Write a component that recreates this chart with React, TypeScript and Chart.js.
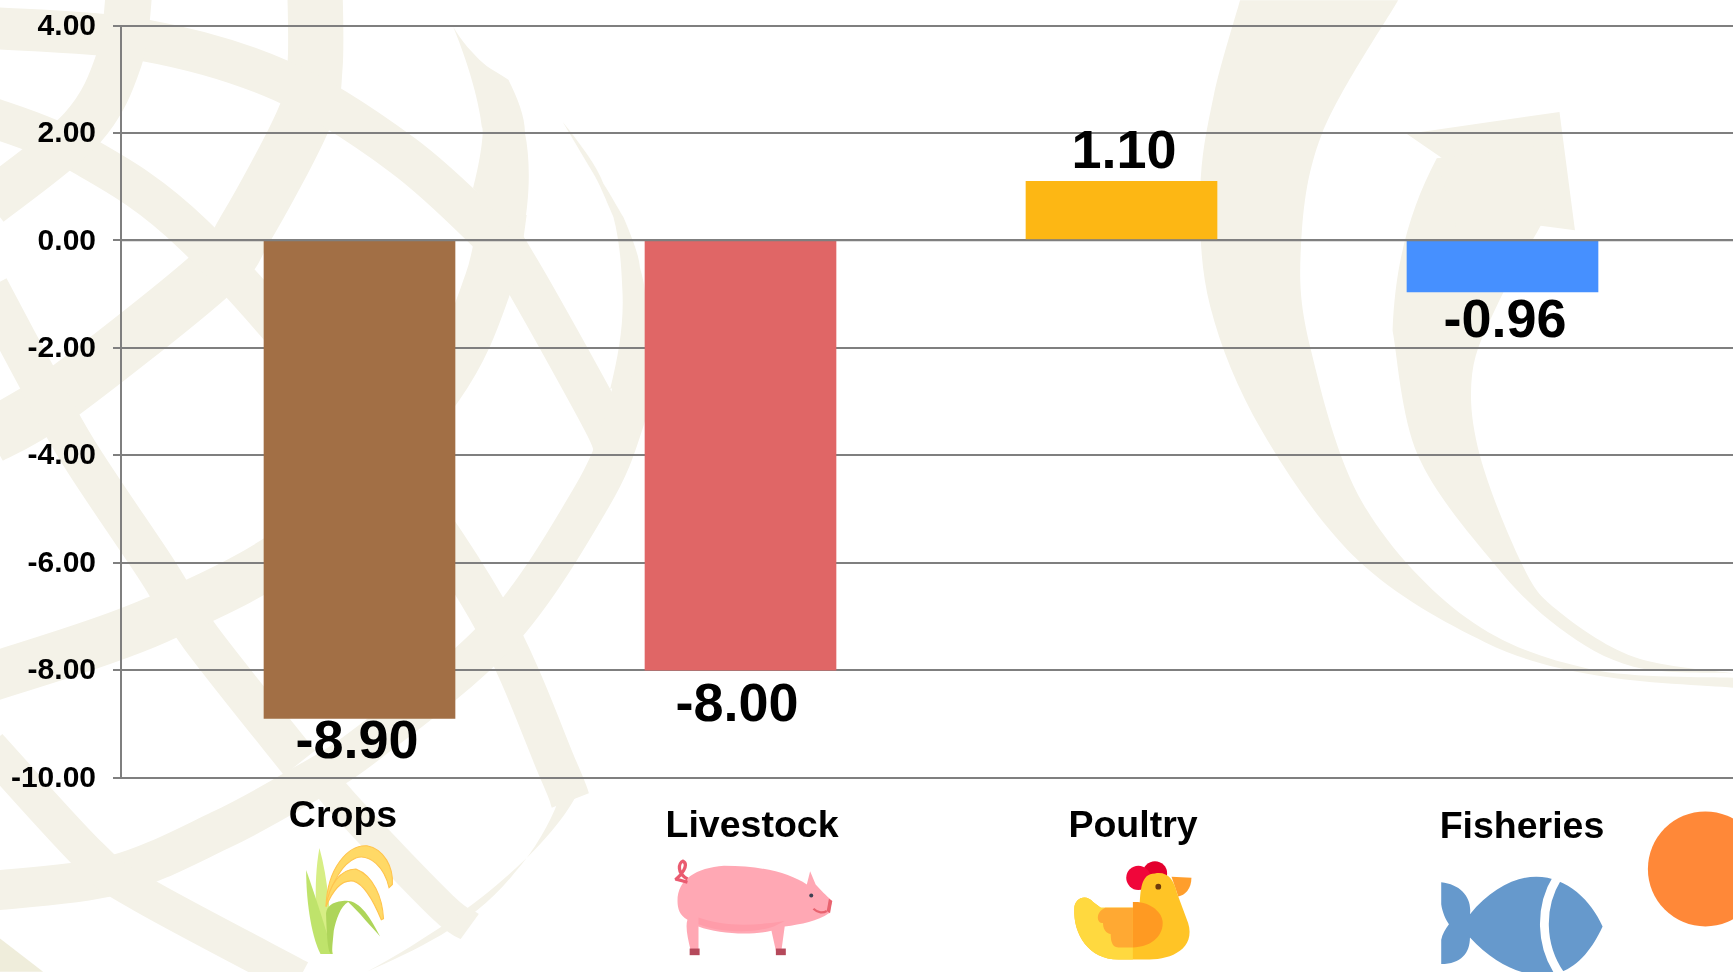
import React, { useEffect, useRef } from "react";
import { Chart, registerables } from "chart.js";

Chart.register(...registerables);

const categories = ["Crops", "Livestock", "Poultry", "Fisheries"];
const seriesValues = [-8.9, -8.0, 1.1, -0.96];
const barColors = ["#A26F45", "#E06666", "#FDB714", "#4690FF"];
const AXIS_COLOR = "#7F7F7F";
const FONT = '"Liberation Sans", Arial, sans-serif';
const WATERMARK = "#F4F2E8";

// label offsets relative to the bar centre and the bar end
const valueOffsetX = [-2.5, -3.5, 2.5, 2.5];
const valueOffsetY = [24.5, 36.5, -28.5, 30.5];
const categoryOffsetX = [-16.5, 11.5, 11.5, 19.5];
const categoryY = [816.5, 826.5, 826.5, 827.5];

type P = [number, number];

// Catmull-Rom through decorative points (page decoration only)
function smooth(pts: P[]): string {
  let d = `M${pts[0][0]},${pts[0][1]}`;
  for (let i = 0; i < pts.length - 1; i++) {
    const p0 = pts[Math.max(i - 1, 0)];
    const p1 = pts[i];
    const p2 = pts[i + 1];
    const p3 = pts[Math.min(i + 2, pts.length - 1)];
    d += ` C${p1[0] + (p2[0] - p0[0]) / 6},${p1[1] + (p2[1] - p0[1]) / 6} ${p2[0] - (p3[0] - p1[0]) / 6},${p2[1] - (p3[1] - p1[1]) / 6} ${p2[0]},${p2[1]}`;
  }
  return d;
}

const ribbons: { pts: P[]; w: number }[] = [
  { pts: [[285, -10], [285, 60], [275, 107], [222, 207], [189, 250], [50, 360], [-10, 395]], w: 50 },
  { pts: [[-10, 25], [130, 36], [255, 73], [364, 140], [445, 213], [468, 241], [543, 375], [556, 405]], w: 38 },
  { pts: [[-10, 105], [71, 138], [175, 212], [323, 381], [440, 550], [505, 696], [516, 724]], w: 36 },
  { pts: [[-10, 260], [30, 335], [71, 409], [139, 511], [181, 576], [271, 690]], w: 36 },
  { pts: [[578, 320], [565, 380], [535, 450], [452, 572], [332, 673], [271, 712], [199, 751], [102, 792], [-10, 806]], w: 36 },
  { pts: [[-10, 613], [141, 561], [283, 482], [397, 350], [442, 255], [455, 190]], w: 44 },
  { pts: [[117, -10], [108, 53], [74, 116], [-10, 184]], w: 42 },
  { pts: [[-10, 675], [81, 774], [127, 808], [271, 885]], w: 33 },
  { pts: [[280, 690], [318, 735], [400, 820], [425, 838]], w: 28 },
];

const tapers = [
  "M410,24 C418,38 428,48 434,54 C442,62 452,66 460,72 C468,88 475,105 475,120 C480,145 480,180 472,217 L428,170 C436,140 438,115 436,115 C434,95 425,60 410,24 Z",
  "M509,110 C525,130 540,150 546,166 C555,180 560,190 564,196 C572,215 578,230 579,242 C583,255 584,265 584,272 L590,330 L552,352 C560,320 565,290 563,260 C562,235 560,215 555,196 C548,180 542,165 537,157 C528,142 518,125 509,110 Z",
  "M525,712 C510,748 450,815 332,879 C375,860 430,835 465,790 C485,768 497,745 505,725 Z",
];

const crescentA: P[] = [[1122, 0], [1098, 87], [1086, 173], [1095, 277], [1142, 390], [1229, 507], [1344, 581], [1445, 611], [1568, 622]];
const crescentAInner: P[] = [[1568, 613], [1438, 605], [1327, 559], [1233, 455], [1186, 316], [1177, 225], [1196, 121], [1265, 0]];
const crescentB: P[] = [[1260, 299], [1283, 412], [1352, 510], [1411, 568], [1478, 603], [1568, 609]];
const crescentBInner: P[] = [[1568, 609], [1478, 594], [1408, 551], [1377, 510], [1339, 412], [1332, 338], [1355, 275], [1394, 204]];

function Background() {
  return (
    <svg
      viewBox="0 0 1568 879"
      width={1733}
      height={972}
      style={{ position: "absolute", left: 0, top: 0 }}
    >
      {ribbons.map((r, i) => (
        <path key={i} d={smooth(r.pts)} fill="none" stroke={WATERMARK} strokeWidth={r.w} />
      ))}
      {tapers.map((d, i) => (
        <path key={i} d={d} fill={WATERMARK} />
      ))}
      <path d="M0,849 L39,879 L0,879 Z" fill="#EFEDDB" />
      <path d={smooth(crescentA) + " L" + smooth(crescentAInner).slice(1) + " Z"} fill={WATERMARK} />
      <path
        d={
          "M1273,121 L1411,101 L1425,208 L1394,204 L1300,143 " +
          "C1275,190 1262,240 1260,299 " +
          smooth(crescentB).replace(/^M[^ ]+/, "") +
          " L" +
          smooth(crescentBInner).slice(1) +
          " L1273,121 Z"
        }
        fill={WATERMARK}
      />
      <path d="M1273,121 L1300,143 L1411,130 L1394,204 L1330,250 L1300,143 Z" fill={WATERMARK} />

      {/* Crops icon */}
      <path d="M289,767 C283,800 286,840 291,863 L301,863 C299,830 297,795 289,767 Z" fill="#D7EE85" />
      <path d="M277,787 C277,820 283,850 290,863 L301,863 C295,840 285,810 277,787 Z" fill="#BFE36B" />
      <path d="M295,826 C296,860 298,862 300,863 L302,842 C304,832 308,820 315,816 C325,825 335,838 344,847 C335,830 325,812 310,815 C300,816 296,820 295,826 Z" fill="#AED55A" />
      <path d="M295,820 C296,785 315,764 332,765 C348,768 356,785 355,800 L352,803 C348,785 335,772 322,776 C308,782 300,800 295,820 Z" fill="#FFD966" stroke="#FFC44D" strokeWidth={1} />
      <path d="M295,820 C298,800 308,786 322,786 C338,792 346,812 347,831 L345,832 C338,815 330,800 320,797 C308,795 300,808 295,820 Z" fill="#FFD966" stroke="#FFC44D" strokeWidth={1} />

      {/* Livestock icon */}
      <path d="M613,815 C613,795 630,785 655,783 C690,783 715,790 730,800 L733,788 L738,800 C745,808 750,812 753,815 L750,826 C740,833 725,836 710,838 L707,860 L702,860 L698,842 C680,846 650,845 632,838 L632,860 L625,860 C622,848 620,838 622,832 C615,828 613,822 613,815 Z" fill="#FFA8B4" />
      <path d="M632,836 C650,843 680,845 700,838 L710,833 C680,838 655,838 632,830 Z" fill="#FF9CA9" />
      <path d="M622,798 L611,795 M622,795 C612,790 614,780 618,779 C624,782 616,792 611,796" fill="none" stroke="#EA5B70" strokeWidth={3} />
      <circle cx={734} cy={810} r={1.8} fill="#3E4152" />
      <path d="M750,813 L753,815 L751,826 L748,824 Z" fill="#E8636F" />
      <path d="M736,822 C740,826 745,826 748,824" fill="none" stroke="#E8636F" strokeWidth={2} />
      <rect x={624} y={858} width={9} height={6} fill="#B5495B" />
      <rect x={702} y={858} width={9} height={6} fill="#B5495B" />

      {/* Poultry icon */}
      <circle cx={1045} cy={790} r={11} fill="#E3002D" />
      <circle cx={1030} cy={794} r={11} fill="#F0063A" />
      <path d="M1060,793 L1078,794 C1078,804 1072,810 1066,811 Z" fill="#FF9E2C" />
      <path d="M972,822 C972,812 983,808 989,816 L996,821 L1031,821 C1032,805 1032,790 1045,790 C1056,788 1062,795 1065,808 L1075,835 C1082,858 1060,868 1040,868 L1012,868 C985,868 971,845 972,822 Z" fill="#FFC426" />
      <path d="M972,822 C972,812 983,808 989,816 L996,821 L1025,821 L1025,868 L1012,868 C985,868 971,845 972,822 Z" fill="#FFD93F" />
      <path d="M1000,821 L1025,821 L1025,857 L1012,857 C1005,857 1005,848 1005,845 C998,844 998,836 998,835 C992,835 991,825 1000,821 Z" fill="#FFA933" />
      <path d="M1025,816 C1040,815 1052,825 1052,835 C1052,848 1040,857 1025,857 Z" fill="#FF9A22" />
      <circle cx={1048} cy={802} r={2.6} fill="#6E3B0B" />

      {/* Fisheries icon */}
      <path d="M1304,798 C1322,800 1332,812 1330,827 C1348,805 1370,793 1390,793 C1418,793 1440,815 1450,838 C1440,860 1425,878 1405,881 L1385,881 C1370,879 1348,868 1330,848 C1330,862 1322,872 1304,872 L1304,850 C1305,845 1308,840 1311,836 C1308,832 1305,825 1304,818 Z" fill="#6699CC" />
      <path d="M1409,794 C1393,820 1393,855 1412,882" fill="none" stroke="#FFFFFF" strokeWidth={8} />
      <circle cx={1543} cy={786} r={52} fill="#FF8838" />
    </svg>
  );
}

const labelPlugin = {
  id: "barLabels",
  afterDatasetsDraw(chart: any) {
    const { ctx, scales, chartArea } = chart;
    const meta = chart.getDatasetMeta(0);
    const zero = scales.y.getPixelForValue(0);
    ctx.save();
    ctx.strokeStyle = AXIS_COLOR;
    ctx.lineWidth = 2;
    ctx.beginPath();
    ctx.moveTo(chartArea.left, zero);
    ctx.lineTo(chartArea.right, zero);
    ctx.stroke();
    ctx.fillStyle = "#000";
    ctx.textAlign = "center";
    ctx.textBaseline = "middle";
    meta.data.forEach((bar: any, i: number) => {
      ctx.font = `bold 54px ${FONT}`;
      ctx.fillText(seriesValues[i].toFixed(2), bar.x + valueOffsetX[i], bar.y + valueOffsetY[i]);
      ctx.font = `bold 37.5px ${FONT}`;
      ctx.fillText(categories[i], bar.x + categoryOffsetX[i], categoryY[i]);
    });
    ctx.restore();
  },
};

export default function App() {
  const ref = useRef<HTMLCanvasElement>(null);
  useEffect(() => {
    document.body.style.margin = "0";
    document.body.style.background = "#fff";
    const chart = new Chart(ref.current!, {
      type: "bar",
      data: {
        datasets: [
          {
            data: seriesValues.map((y, x) => ({ x, y })),
            backgroundColor: barColors,
            borderWidth: 0,
            barThickness: 191,
          },
        ],
      },
      options: {
        responsive: false,
        animation: false,
        layout: { padding: { top: 25.5, bottom: 194.5, left: 0, right: 0 } },
        plugins: { legend: { display: false }, tooltip: { enabled: false } },
        scales: {
          x: {
            type: "linear",
            display: false,
            offset: false,
            min: -(359.5 - 121) / 381,
            max: (1733 - 359.5) / 381,
          },
          y: {
            min: -10,
            max: 4,
            afterFit(s: any) {
              s.width = 121;
              s.paddingTop = 0;
              s.paddingBottom = 0;
            },
            border: { color: AXIS_COLOR, width: 2 },
            grid: { color: AXIS_COLOR, lineWidth: 2, tickLength: 8, drawTicks: true },
            ticks: {
              stepSize: 2,
              padding: 17,
              labelOffset: 1,
              color: "#000",
              font: { family: FONT, size: 30, weight: "bold" },
              callback: (v: any) => Number(v).toFixed(2),
            },
          },
        },
      },
      plugins: [labelPlugin],
    } as any);
    return () => chart.destroy();
  }, []);
  return (
    <div style={{ position: "absolute", left: 0, top: 0, width: 1733, height: 972, overflow: "hidden", background: "#fff" }}>
      <Background />
      <canvas ref={ref} width={1733} height={972} style={{ position: "absolute", left: 0, top: 0 }} />
    </div>
  );
}
